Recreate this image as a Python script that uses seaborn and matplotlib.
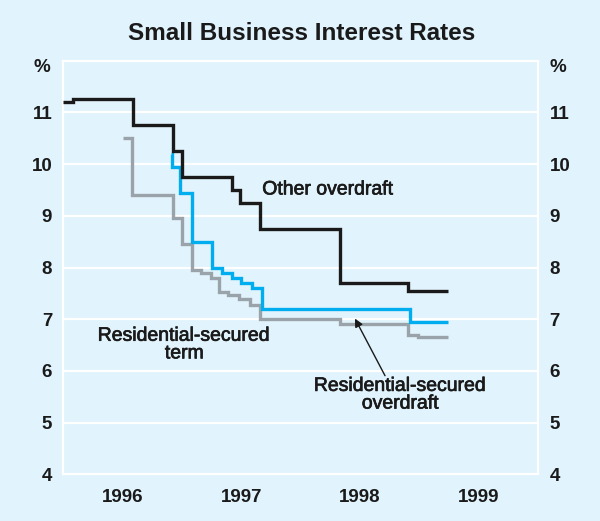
import matplotlib
matplotlib.use("Agg")
import matplotlib.pyplot as plt
import matplotlib.patheffects as pe
import seaborn as sns
import pandas as pd

# Step series (decimal year, per cent)
other_x = [1996.0, 1996.084, 1996.59, 1996.92, 1997.0, 1997.42, 1997.49, 1997.66, 1998.33, 1998.90, 1999.24]
other_y = [11.2, 11.25, 10.75, 10.25, 9.75, 9.5, 9.25, 8.75, 7.7, 7.55, 7.55]

term_x = [1996.91, 1996.915, 1996.98, 1997.08, 1997.25, 1997.34, 1997.42, 1997.50, 1997.59, 1997.67, 1998.92, 1999.24]
term_y = [10.2, 9.95, 9.45, 8.5, 8.0, 7.9, 7.8, 7.7, 7.6, 7.2, 6.95, 6.95]

rso_x = [1996.50, 1996.575, 1996.92, 1997.0, 1997.08, 1997.16, 1997.24, 1997.31, 1997.39, 1997.48,
         1997.57, 1997.66, 1998.33, 1998.90, 1998.99, 1999.24]
rso_y = [10.5, 9.4, 8.95, 8.45, 7.95, 7.9, 7.8, 7.53, 7.47, 7.4, 7.28, 7.0, 6.9, 6.7, 6.65, 6.65]

years = [1996, 1997, 1998, 1999]
y_ticks = [4, 5, 6, 7, 8, 9, 10, 11]

bg = "#E1F3FC"
ink = "#1A1A1A"
sns.set_theme(style="white", rc={"axes.facecolor": bg, "figure.facecolor": bg})
plt.rcParams["font.family"] = ["Liberation Sans", "DejaVu Sans"]

fig = plt.figure(figsize=(6.0, 5.21), dpi=100)
ax = fig.add_axes([0.1055, 0.0896, 0.7917, 0.7939])

# white horizontal grid
for v in y_ticks[1:]:
    ax.axhline(v, color="white", lw=1.6, zorder=1)

series = [
    (rso_x, rso_y, "#9AA3A9"),
    (term_x, term_y, "#00AEEF"),
    (other_x, other_y, ink),
]
for xs, ys, col in series:
    df = pd.DataFrame({"x": xs, "y": ys})
    sns.lineplot(data=df, x="x", y="y", ax=ax, color=col, lw=2.4, estimator=None,
                 sort=False, drawstyle="steps-post", solid_joinstyle="miter",
                 solid_capstyle="butt", zorder=3)

ax.set_xlim(1996, 2000)
ax.set_ylim(4, 12)

for s in ax.spines.values():
    s.set_color("white")
    s.set_linewidth(1.6)

# year boundary ticks, labels centred in each year
ax.set_xticks([1997, 1998, 1999])
ax.set_xticklabels([])
ax.tick_params(axis="x", direction="in", length=10, width=1.6, color="white")
for yr in years:
    ax.text(yr + 0.5, -0.055, str(yr), transform=ax.get_xaxis_transform(),
            ha="center", va="center", fontsize=13.5, fontweight="bold", color=ink)

ax.set_yticks(y_ticks)
ax.set_yticklabels([str(v) for v in y_ticks], fontsize=13.5, fontweight="bold", color=ink)
ax.tick_params(axis="y", length=0, pad=8, labelright=True, right=False)
for lab in ax.get_yticklabels():
    lab.set_fontweight("bold")

ax.set_xlabel("")
ax.set_ylabel("")

# unit labels
ax.text(-0.028, 11.86, "%", transform=ax.get_yaxis_transform(), ha="right", va="center",
        fontsize=13.5, fontweight="bold", color=ink)
ax.text(1.023, 11.86, "%", transform=ax.get_yaxis_transform(), ha="left", va="center",
        fontsize=13.5, fontweight="bold", color=ink)

fig.text(0.502, 0.935, "Small Business Interest Rates", ha="center", va="center",
         fontsize=17.5, fontweight="bold", color=ink)

thick = [pe.withStroke(linewidth=0.5, foreground=ink)]
ax.text(1998.23, 9.5, "Other overdraft", ha="center", va="center", fontsize=14,
        color=ink, path_effects=thick)
ax.text(1997.02, 6.5, "Residential-secured\nterm", ha="center", va="center", fontsize=14,
        color=ink, linespacing=1.05, path_effects=thick)
ax.text(1998.84, 5.53, "Residential-secured\noverdraft", ha="center", va="center", fontsize=14,
        color=ink, linespacing=1.05, path_effects=thick)
ax.annotate("", xy=(1998.445, 7.06), xytext=(1998.72, 5.86),
            arrowprops=dict(arrowstyle="-|>", color=ink, lw=1.0, mutation_scale=12))

fig.savefig("out.png", dpi=100, facecolor=bg)
